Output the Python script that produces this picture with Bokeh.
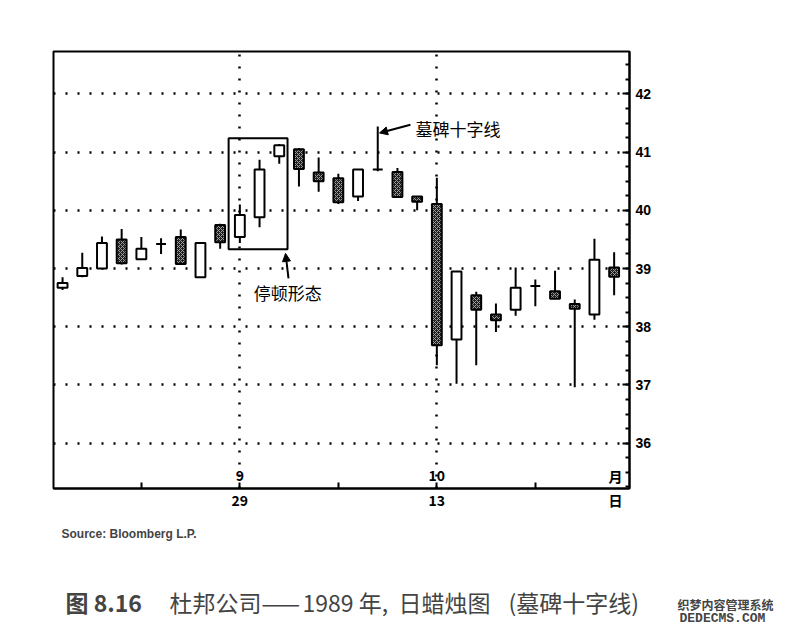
from bokeh.plotting import figure
from bokeh.layouts import column
from bokeh.models import (Range1d, FixedTicker, Label, BoxAnnotation, Arrow,
                          NormalHead, ColumnDataSource)
from bokeh.embed import file_html
from bokeh.resources import INLINE

# ---- data ----
day_index = list(range(29))
opens  = [38.67, 38.87, 39.00, 39.50, 39.16, 39.42, 39.54, 38.85, 39.75, 39.54,
          39.88, 40.93, 41.05, 40.65, 40.55, 40.24, 40.70, 40.66, 40.24, 40.11,
          37.78, 38.54, 38.21, 38.29, 38.70, 38.61, 38.39, 38.21, 39.02]
highs  = [38.85, 39.27, 39.55, 39.68, 39.54, 39.52, 39.67, 39.44, 39.77, 40.10,
          40.87, 41.14, 41.07, 40.91, 40.63, 40.70, 41.44, 40.73, 40.24, 40.56,
          38.95, 38.60, 38.40, 39.02, 38.81, 38.96, 38.47, 39.51, 39.28]
lows   = [38.63, 38.85, 39.00, 39.07, 39.16, 39.25, 39.07, 38.85, 39.34, 39.44,
          39.71, 40.80, 40.41, 40.32, 40.11, 40.16, 40.67, 40.23, 40.00, 37.34,
          37.02, 37.34, 37.91, 38.19, 38.35, 38.48, 36.96, 38.12, 38.54]
closes = [38.75, 39.01, 39.44, 39.09, 39.34, 39.42, 39.08, 39.44, 39.45, 39.92,
          40.70, 41.12, 40.71, 40.50, 40.14, 40.70, 40.70, 40.23, 40.15, 37.68,
          38.95, 38.29, 38.11, 38.67, 38.70, 38.48, 38.31, 39.15, 38.86]

price_ticks = [36, 37, 38, 39, 40, 41, 42]
week_ticks = [4, 9, 14, 19, 24]
date_grid_pos = [9, 19]
label_pos = [9, 19, 28.07]
date_labels_low = {9: "29", 19: "13", 28.07: "日"}
date_labels_high = {9: "9", 19: "10", 28.07: "月"}

up_idx = [i for i in day_index if closes[i] >= opens[i]]
dn_idx = [i for i in day_index if closes[i] < opens[i]]

up = ColumnDataSource(dict(x=up_idx,
                           bottom=[opens[i] for i in up_idx],
                           top=[closes[i] for i in up_idx]))
dn = ColumnDataSource(dict(x=dn_idx,
                           bottom=[closes[i] for i in dn_idx],
                           top=[opens[i] for i in dn_idx]))
wick = ColumnDataSource(dict(x=day_index, lo=lows, hi=highs))

p = figure(width=787, height=518, output_backend="svg", toolbar_location=None,
           x_range=Range1d(-0.46, 28.78), y_range=Range1d(35.22, 42.73),
           y_axis_location="right", min_border_left=53, min_border_top=51,
           min_border_right=158, min_border_bottom=30)
p.background_fill_color = "white"
p.border_fill_color = "white"
p.outline_line_color = "black"
p.outline_line_width = 2

# grids
p.ygrid.ticker = FixedTicker(ticks=price_ticks)
p.xgrid.ticker = FixedTicker(ticks=date_grid_pos)
for g in (p.xgrid, p.ygrid):
    g.grid_line_color = "black"
    g.grid_line_width = 2.5
    g.grid_line_dash = "2 10"

# right axis
ya = p.yaxis[0]
ya.ticker = FixedTicker(ticks=price_ticks,
                        minor_ticks=[35.25 + 0.25 * k for k in range(30)])
ya.axis_line_width = 2
ya.major_tick_in = 7
ya.major_tick_out = 0
ya.minor_tick_in = 4
ya.minor_tick_out = 0
ya.major_tick_line_width = 2
ya.minor_tick_line_width = 2
ya.major_label_text_font = "Liberation Sans"
ya.major_label_text_font_style = "bold"
ya.major_label_text_font_size = "14px"
ya.major_label_text_color = "black"
ya.major_label_standoff = 6

# bottom axis: labels on major ticks (no marks), weekly marks as minor ticks
xa = p.xaxis[0]
xa.ticker = FixedTicker(ticks=label_pos, minor_ticks=week_ticks)
xa.major_label_overrides = date_labels_low
xa.axis_line_width = 2
xa.major_tick_in = 0
xa.major_tick_out = 0
xa.minor_tick_in = 6
xa.minor_tick_out = 0
xa.minor_tick_line_width = 2
xa.major_label_text_font = "Noto Sans CJK SC"
xa.major_label_text_font_style = "bold"
xa.major_label_text_font_size = "14px"
xa.major_label_text_color = "black"
xa.major_label_standoff = 1

# candles
p.segment(x0="x", y0="lo", x1="x", y1="hi", source=wick,
          line_color="black", line_width=2)
p.vbar(x="x", bottom="bottom", top="top", width=0.5, source=up,
       fill_color="white", line_color="black", line_width=2)
p.vbar(x="x", bottom="bottom", top="top", width=0.5, source=dn,
       fill_color="#1e1e1e", line_color="black", line_width=2,
       hatch_pattern="x", hatch_color="#a0a0a0", hatch_scale=4, hatch_weight=1)

# stalled pattern box and notes
p.add_layout(BoxAnnotation(left=8.43, right=11.42, bottom=39.33, top=41.24,
                           fill_alpha=0, line_color="black", line_alpha=1,
                           line_width=2))
p.add_layout(Arrow(x_start=11.47, y_start=38.83, x_end=11.32, y_end=39.26,
                   line_width=2, line_color="black",
                   end=NormalHead(size=8, fill_color="black", line_color="black")))
p.add_layout(Arrow(x_start=17.66, y_start=41.47, x_end=16.09, y_end=41.33,
                   line_width=2, line_color="black",
                   end=NormalHead(size=8, fill_color="black", line_color="black")))
p.add_layout(Label(x=9.7, y=38.59, text="停顿形态", text_font="Noto Sans CJK SC",
                   text_font_size="17px", text_baseline="middle", text_color="black"))
p.add_layout(Label(x=17.92, y=41.41, text="墓碑十字线", text_font="Noto Sans CJK SC",
                   text_font_size="17px", text_baseline="middle", text_color="black"))

# upper row of the two-row date labels (month)
for k, t in date_labels_high.items():
    p.add_layout(Label(x=k, y=35.44, text=t, text_font="Noto Sans CJK SC",
                       text_font_style="bold", text_font_size="14px",
                       text_align="center", text_baseline="middle",
                       text_color="black"))

# source and caption panel
c = figure(width=787, height=110, output_backend="svg", toolbar_location=None,
           x_range=Range1d(0, 787), y_range=Range1d(110, 0),
           min_border_left=0, min_border_right=0, min_border_top=0,
           min_border_bottom=0)
for fig in (p, c):
    try:
        fig.frame_align = False
    except Exception:
        pass
c.axis.visible = False
c.grid.visible = False
c.outline_line_color = None
c.background_fill_color = "white"
c.border_fill_color = "white"
c.add_layout(Label(x=61, y=15, text="Source:  Bloomberg L.P.",
                   text_font="Liberation Sans", text_font_style="bold",
                   text_font_size="12px", text_baseline="middle"))
c.add_layout(Label(x=65, y=83, text="图 8.16", text_font="Noto Sans CJK SC",
                   text_font_style="bold", text_font_size="23px",
                   text_baseline="middle"))
caption_parts = [(169, "杜邦公司——"), (302, "1989 年,"), (398, "日蜡烛图"),
                 (508, "(墓碑十字线)")]
for cx, txt in caption_parts:
    c.add_layout(Label(x=cx, y=83, text=txt, text_font="Noto Sans CJK SC",
                       text_font_size="23px", text_baseline="middle"))
c.add_layout(Label(x=677, y=86, text="织梦内容管理系统", text_font="Noto Sans CJK SC",
                   text_font_style="bold", text_font_size="12px",
                   text_baseline="middle"))
c.add_layout(Label(x=679, y=100, text="DEDECMS.COM", text_font="Liberation Mono",
                   text_font_style="bold", text_font_size="13px",
                   text_baseline="middle"))

layout = column(p, c, spacing=0)
open("out.html", "w").write(file_html(layout, INLINE))
